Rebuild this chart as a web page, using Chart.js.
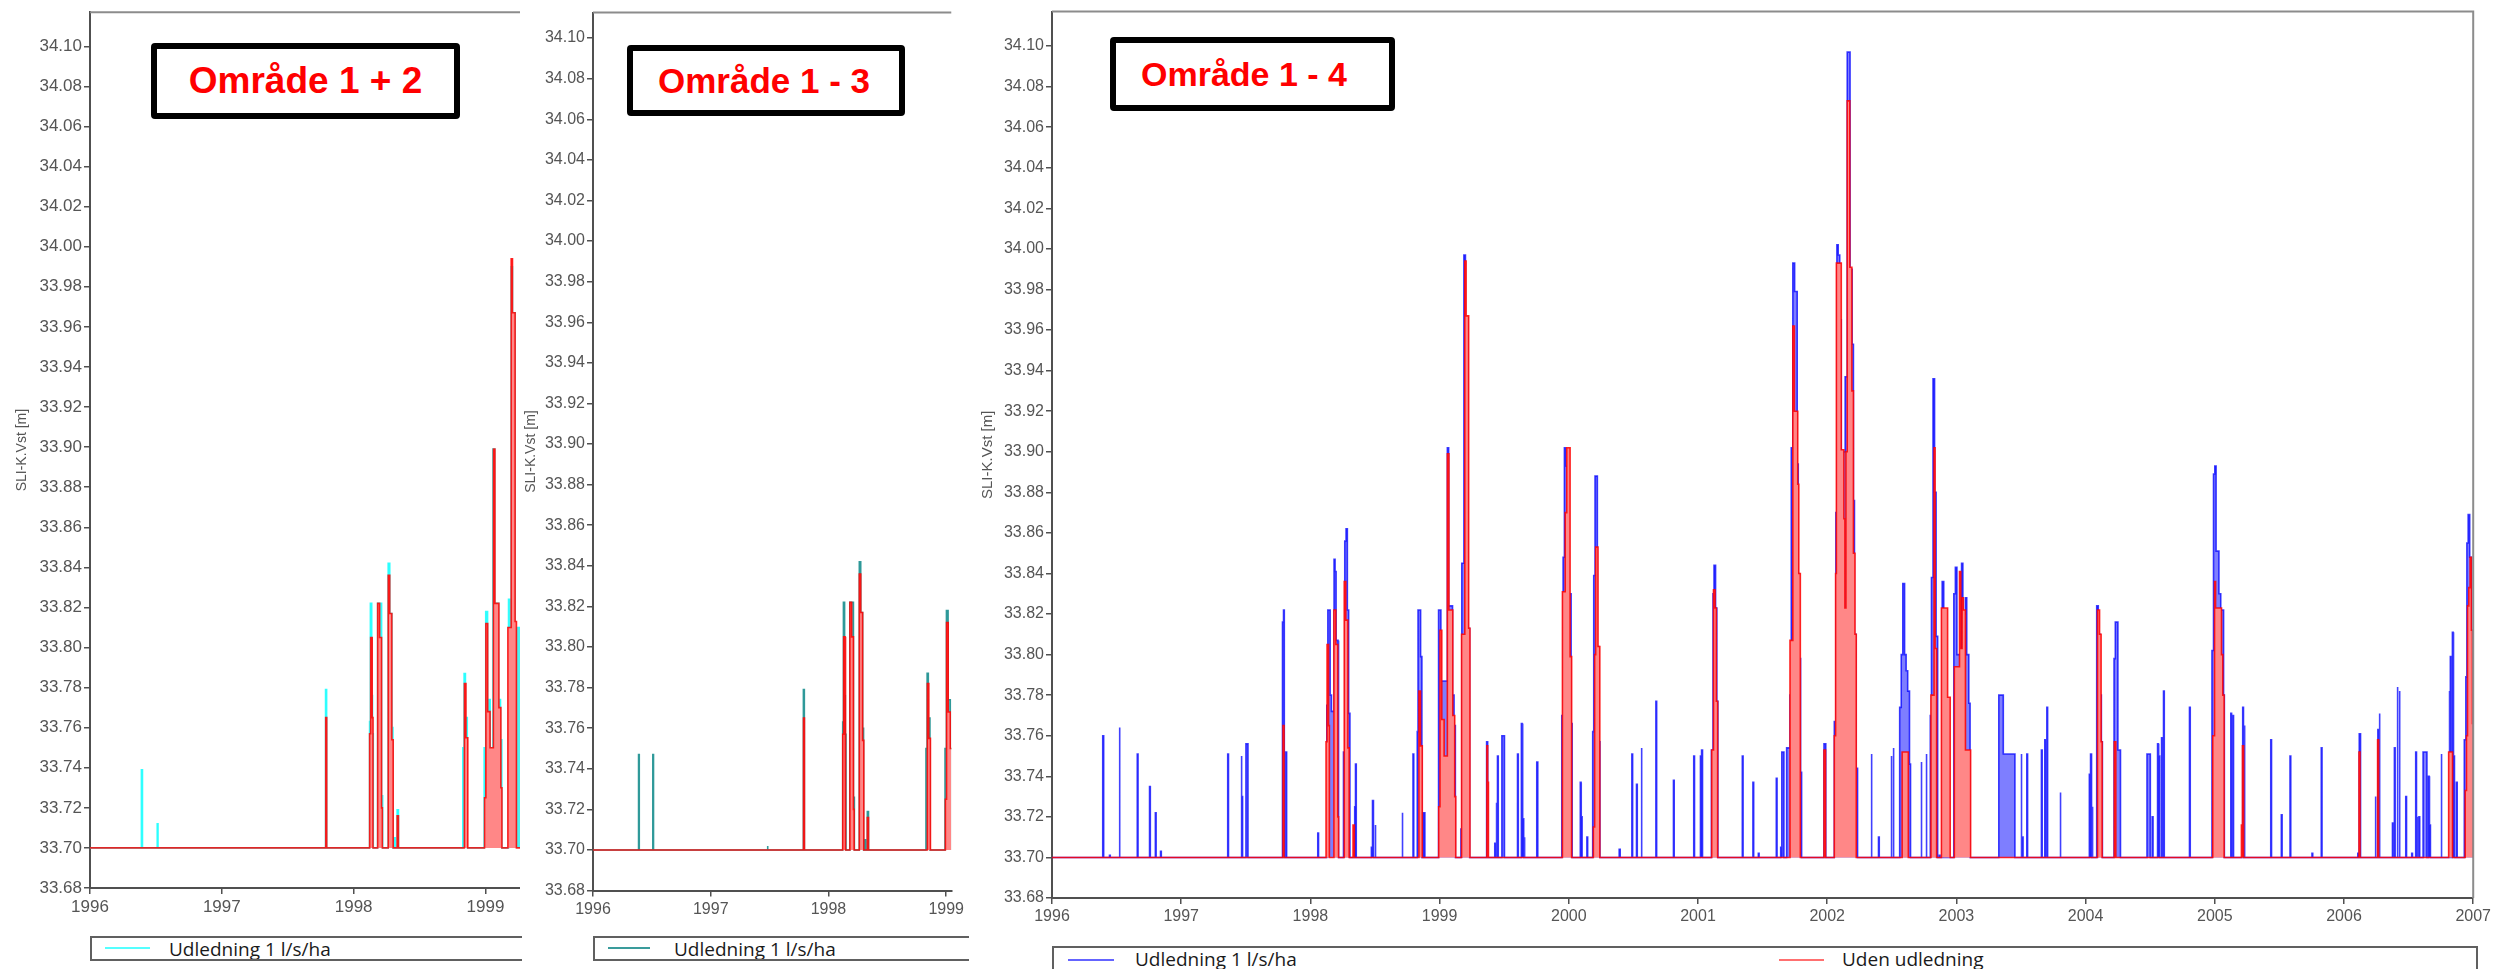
<!DOCTYPE html>
<html lang="da">
<head>
<meta charset="utf-8">
<title>SLI-K.Vst</title>
<script src="https://cdn.jsdelivr.net/npm/chart.js@4.4.1/dist/chart.umd.min.js"></script>
<style>
  html, body { margin: 0; padding: 0; background: #fff; }
  body { position: relative; width: 2494px; height: 969px; overflow: hidden; }
  canvas { position: absolute; top: 0; }
  .title-box {
    position: absolute; box-sizing: border-box; border: 6px solid #000; border-radius: 4px;
    background: #fff; display: flex; align-items: center; color: #ff0000;
    font-family: "Liberation Sans", Arial, sans-serif; font-weight: bold; white-space: nowrap;
  }
  .legend { position: absolute; box-sizing: border-box; border: 2px solid #606060; background: #fff; overflow: hidden; }
  .legend .swatch { position: absolute; height: 2px; }
  .legend .label {
    position: absolute; top: 0; font-family: "Open Sans", sans-serif; font-size: 19px;
    line-height: 23px; color: #1a1a1a; white-space: nowrap;
  }
</style>
</head>
<body>

<canvas id="panel12" width="520" height="930" style="left:0px"></canvas>
<canvas id="panel13" width="447" height="932" style="left:520px"></canvas>
<canvas id="panel14" width="1527" height="940" style="left:967px"></canvas>

<div class="title-box" style="left:151px;top:43px;width:309px;height:76px;font-size:37px;justify-content:center;">Område 1 + 2</div>
<div class="title-box" style="left:627px;top:45px;width:278px;height:71px;font-size:35px;padding-left:25px;">Område 1 - 3</div>
<div class="title-box" style="left:1110px;top:37px;width:285px;height:74px;font-size:34px;padding-left:25px;">Område 1 - 4</div>

<div class="legend" style="left:90px;top:936px;width:432px;height:25px;border-right:none;">
  <div class="swatch" style="left:13px;top:9px;width:45px;background:#55ffff;"></div>
  <div class="label" style="left:77px;">Udledning 1 l/s/ha</div>
</div>
<div class="legend" style="left:593px;top:936px;width:376px;height:25px;border-right:none;">
  <div class="swatch" style="left:13px;top:9px;width:42px;background:#3a9c9c;"></div>
  <div class="label" style="left:79px;">Udledning 1 l/s/ha</div>
</div>
<div class="legend" style="left:1052px;top:946px;width:1426px;height:30px;">
  <div class="swatch" style="left:14px;top:11px;width:46px;background:#6464ff;"></div>
  <div class="label" style="left:81px;">Udledning 1 l/s/ha</div>
  <div class="swatch" style="left:725px;top:11px;width:45px;background:#ff7070;"></div>
  <div class="label" style="left:788px;">Uden udledning</div>
</div>

<script>
const BASE = 33.70;
const SPIKE = 0.006;

const yearTicks = [1996, 1997, 1998, 1999, 2000, 2001, 2002, 2003, 2004, 2005, 2006, 2007];
const levelTicks = [33.68, 33.70, 33.72, 33.74, 33.76, 33.78, 33.80, 33.82, 33.84, 33.86, 33.88,
                    33.90, 33.92, 33.94, 33.96, 33.98, 34.00, 34.02, 34.04, 34.06, 34.08, 34.10];
const yTitle = 'SLI-K.Vst [m]';

// events: [start year, level, duration in years (default SPIKE)]
const udenUdledning = [
  [1997.788, 33.765, 0.008],
  [1998.121, 33.757, 0.008], [1998.129, 33.805, 0.012], [1998.141, 33.765, 0.006],
  [1998.182, 33.822, 0.015], [1998.197, 33.805, 0.015], [1998.212, 33.72, 0.006],
  [1998.262, 33.836, 0.012], [1998.274, 33.817, 0.016], [1998.29, 33.754, 0.01],
  [1998.33, 33.716, 0.01],
  [1998.84, 33.782, 0.012], [1998.852, 33.755, 0.014],
  [1998.993, 33.725, 0.01], [1999.003, 33.812, 0.014], [1999.017, 33.768, 0.018],
  [1999.035, 33.75, 0.025], [1999.06, 33.899, 0.012], [1999.072, 33.822, 0.03],
  [1999.102, 33.77, 0.015], [1999.117, 33.73, 0.008],
  [1999.17, 33.81, 0.025], [1999.195, 33.994, 0.01], [1999.205, 33.967, 0.02], [1999.225, 33.813, 0.01],
  [1999.366, 33.755, 0.006], [1999.372, 33.737, 0.006],
  [1999.948, 33.753, 0.004], [1999.952, 33.831, 0.02], [1999.972, 33.87, 0.012],
  [1999.984, 33.902, 0.026], [2000.01, 33.799, 0.012],
  [2000.19, 33.715, 0.01], [2000.20, 33.80, 0.008], [2000.208, 33.853, 0.018], [2000.226, 33.804, 0.014],
  [2001.106, 33.753, 0.014], [2001.12, 33.832, 0.012], [2001.132, 33.823, 0.01], [2001.142, 33.777, 0.01],
  [2001.712, 33.807, 0.022], [2001.734, 33.962, 0.012], [2001.746, 33.92, 0.026],
  [2001.772, 33.884, 0.008], [2001.78, 33.84, 0.012],
  [2001.975, 33.753, 0.012],
  [2002.055, 33.76, 0.01], [2002.065, 33.84, 0.006], [2002.071, 33.993, 0.038], [2002.109, 33.901, 0.02],
  [2002.129, 33.867, 0.008], [2002.137, 33.823, 0.008], [2002.145, 33.90, 0.01], [2002.155, 34.073, 0.02],
  [2002.175, 33.991, 0.016], [2002.191, 33.93, 0.012], [2002.203, 33.85, 0.012], [2002.215, 33.81, 0.01],
  [2002.58, 33.752, 0.048],
  [2002.803, 33.78, 0.024], [2002.827, 33.902, 0.008], [2002.835, 33.803, 0.012],
  [2002.884, 33.823, 0.048], [2002.932, 33.779, 0.02],
  [2002.984, 33.794, 0.04], [2003.024, 33.841, 0.01], [2003.034, 33.803, 0.01], [2003.044, 33.828, 0.01],
  [2003.054, 33.822, 0.016], [2003.07, 33.753, 0.04],
  [2004.092, 33.822, 0.016], [2004.108, 33.81, 0.012], [2004.12, 33.757, 0.008],
  [2004.222, 33.757, 0.012],
  [2004.984, 33.76, 0.014], [2004.998, 33.836, 0.008], [2005.006, 33.823, 0.046],
  [2005.052, 33.80, 0.01], [2005.062, 33.78, 0.01],
  [2005.206, 33.716, 0.006], [2005.215, 33.755, 0.008],
  [2006.116, 33.752, 0.008],
  [2006.26, 33.758, 0.008],
  [2006.81, 33.752, 0.03],
  [2006.938, 33.733, 0.01], [2006.948, 33.76, 0.008], [2006.956, 33.824, 0.01], [2006.966, 33.833, 0.01],
  [2006.976, 33.848, 0.01], [2006.986, 33.812, 0.008], [2006.994, 33.766, 0.006]
];

const udledning12Early = [[1996.39, 33.739, 0.008], [1996.51, 33.712, 0.006]];
const udledning13Early = [[1996.387, 33.747, 0.006], [1996.508, 33.747, 0.006], [1997.48, 33.702, 0.006]];
const udledningFrom1997 = [
  [1997.787, 33.779, 0.008],
  [1998.121, 33.763, 0.006], [1998.127, 33.822, 0.01], [1998.137, 33.776, 0.006], [1998.143, 33.757, 0.006],
  [1998.182, 33.822, 0.03], [1998.212, 33.726, 0.008],
  [1998.262, 33.842, 0.012], [1998.274, 33.817, 0.016], [1998.29, 33.76, 0.008],
  [1998.305, 33.705, 0.01], [1998.33, 33.719, 0.01],
  [1998.828, 33.75, 0.01], [1998.838, 33.787, 0.01], [1998.848, 33.765, 0.014],
  [1998.99, 33.75, 0.012], [1999.002, 33.818, 0.014], [1999.016, 33.774, 0.02], [1999.036, 33.75, 0.02],
  [1999.056, 33.899, 0.014], [1999.07, 33.822, 0.03], [1999.10, 33.774, 0.014], [1999.114, 33.754, 0.01],
  [1999.175, 33.824, 0.02], [1999.195, 33.99, 0.01], [1999.205, 33.967, 0.02], [1999.225, 33.81, 0.05]
];

const udledning14 = [
  [1996.39, 33.706, 0.004], [1996.394, 33.76], [1996.445, 33.701], [1996.52, 33.764],
  [1996.66, 33.751], [1996.755, 33.735], [1996.80, 33.722], [1996.84, 33.703],
  [1997.36, 33.751], [1997.465, 33.75, 0.004], [1997.469, 33.73], [1997.501, 33.756, 0.016],
  [1997.784, 33.816, 0.008], [1997.792, 33.822], [1997.81, 33.752],
  [1998.057, 33.712],
  [1998.127, 33.775, 0.008], [1998.135, 33.822, 0.018], [1998.153, 33.78, 0.01], [1998.163, 33.772, 0.02],
  [1998.183, 33.847, 0.008], [1998.191, 33.841, 0.008], [1998.199, 33.807, 0.015], [1998.214, 33.749],
  [1998.256, 33.752, 0.01], [1998.266, 33.856, 0.01], [1998.276, 33.862, 0.01], [1998.286, 33.822, 0.01],
  [1998.296, 33.771, 0.01],
  [1998.343, 33.725], [1998.349, 33.746],
  [1998.472, 33.705], [1998.482, 33.728], [1998.50, 33.716],
  [1998.709, 33.722], [1998.794, 33.751],
  [1998.827, 33.762], [1998.833, 33.822, 0.02], [1998.853, 33.799, 0.01],
  [1998.874, 33.722, 0.012],
  [1998.988, 33.759], [1998.994, 33.822, 0.016], [1999.01, 33.787, 0.05], [1999.06, 33.902, 0.01],
  [1999.07, 33.824, 0.03], [1999.10, 33.78, 0.012], [1999.112, 33.765, 0.01],
  [1999.165, 33.714],
  [1999.172, 33.845, 0.016], [1999.188, 33.997, 0.012], [1999.20, 33.966, 0.02], [1999.22, 33.813, 0.012],
  [1999.364, 33.757, 0.008],
  [1999.427, 33.707], [1999.437, 33.727], [1999.448, 33.75],
  [1999.482, 33.76, 0.02],
  [1999.603, 33.751], [1999.633, 33.766], [1999.645, 33.719], [1999.654, 33.71],
  [1999.752, 33.747, 0.008],
  [1999.946, 33.77, 0.01], [1999.956, 33.848, 0.01], [1999.966, 33.902, 0.01], [1999.976, 33.893, 0.022],
  [1999.998, 33.83, 0.02], [2000.018, 33.766, 0.008],
  [2000.089, 33.737], [2000.097, 33.72], [2000.14, 33.71],
  [2000.185, 33.762, 0.008], [2000.193, 33.839, 0.01], [2000.203, 33.888, 0.018], [2000.221, 33.804, 0.012],
  [2000.233, 33.757, 0.008],
  [2000.39, 33.704, 0.008],
  [2000.488, 33.751], [2000.524, 33.736], [2000.56, 33.754],
  [2000.674, 33.777], [2000.81, 33.738],
  [2000.967, 33.75], [2001.019, 33.75], [2001.029, 33.753],
  [2001.104, 33.753, 0.012], [2001.116, 33.83, 0.008], [2001.124, 33.844, 0.012], [2001.136, 33.823, 0.01],
  [2001.146, 33.777, 0.008],
  [2001.343, 33.75], [2001.425, 33.737], [2001.467, 33.702],
  [2001.606, 33.739],
  [2001.64, 33.705], [2001.65, 33.752, 0.015],
  [2001.686, 33.754, 0.026],
  [2001.712, 33.78, 0.01], [2001.722, 33.902, 0.012], [2001.734, 33.993, 0.014], [2001.748, 33.979, 0.02],
  [2001.768, 33.894, 0.008], [2001.776, 33.84], [2001.782, 33.798, 0.012], [2001.794, 33.742, 0.008],
  [2001.975, 33.756, 0.014],
  [2002.055, 33.767, 0.012], [2002.067, 33.87, 0.008], [2002.075, 34.002, 0.01], [2002.085, 33.997, 0.012],
  [2002.097, 33.965, 0.012], [2002.109, 33.90, 0.03], [2002.139, 33.937, 0.016], [2002.155, 34.097, 0.022],
  [2002.177, 33.99, 0.016], [2002.193, 33.953, 0.01], [2002.203, 33.876, 0.008], [2002.211, 33.81, 0.012],
  [2002.223, 33.744, 0.012],
  [2002.34, 33.751], [2002.397, 33.71],
  [2002.494, 33.75], [2002.51, 33.754],
  [2002.561, 33.774, 0.012], [2002.573, 33.80, 0.012], [2002.585, 33.835, 0.014], [2002.599, 33.80, 0.012],
  [2002.611, 33.792, 0.012], [2002.623, 33.782, 0.014], [2002.637, 33.746, 0.008],
  [2002.726, 33.747], [2002.765, 33.751],
  [2002.798, 33.77, 0.009], [2002.807, 33.838, 0.012], [2002.819, 33.936, 0.012], [2002.831, 33.88, 0.012],
  [2002.843, 33.809, 0.012],
  [2002.868, 33.701],
  [2002.89, 33.836, 0.012],
  [2002.98, 33.83, 0.012], [2002.992, 33.843, 0.012], [2003.004, 33.80, 0.036], [2003.04, 33.845, 0.01],
  [2003.05, 33.82, 0.02], [2003.07, 33.828, 0.01], [2003.08, 33.80, 0.016], [2003.096, 33.776, 0.01],
  [2003.328, 33.78, 0.035], [2003.363, 33.751, 0.09],
  [2003.50, 33.751], [2003.51, 33.71], [2003.545, 33.751],
  [2003.658, 33.753], [2003.684, 33.758], [2003.70, 33.774],
  [2003.802, 33.732],
  [2004.029, 33.741], [2004.04, 33.751], [2004.05, 33.725],
  [2004.086, 33.824, 0.012], [2004.098, 33.81, 0.014], [2004.112, 33.78, 0.01], [2004.122, 33.757, 0.008],
  [2004.22, 33.798, 0.01], [2004.23, 33.816, 0.02], [2004.25, 33.753, 0.02],
  [2004.475, 33.751, 0.026], [2004.516, 33.72],
  [2004.557, 33.756], [2004.567, 33.75], [2004.588, 33.759], [2004.603, 33.782],
  [2004.804, 33.774],
  [2004.978, 33.802, 0.012], [2004.99, 33.889, 0.01], [2005.0, 33.893, 0.01], [2005.01, 33.851, 0.022],
  [2005.032, 33.83, 0.014], [2005.046, 33.822, 0.022], [2005.068, 33.78],
  [2005.124, 33.771], [2005.139, 33.77],
  [2005.216, 33.774], [2005.227, 33.765],
  [2005.433, 33.758], [2005.515, 33.721], [2005.582, 33.75], [2005.752, 33.702], [2005.824, 33.754],
  [2006.107, 33.702], [2006.118, 33.761, 0.01],
  [2006.241, 33.73], [2006.262, 33.763], [2006.272, 33.771],
  [2006.375, 33.717], [2006.39, 33.754], [2006.411, 33.784], [2006.427, 33.782],
  [2006.478, 33.73],
  [2006.524, 33.702], [2006.555, 33.752], [2006.566, 33.72], [2006.58, 33.72], [2006.612, 33.752, 0.03],
  [2006.653, 33.74], [2006.663, 33.716],
  [2006.751, 33.751],
  [2006.813, 33.782], [2006.823, 33.799], [2006.839, 33.811], [2006.849, 33.75], [2006.87, 33.737],
  [2006.931, 33.758, 0.012], [2006.943, 33.789, 0.008], [2006.951, 33.855, 0.01], [2006.961, 33.869, 0.012],
  [2006.973, 33.848, 0.014], [2006.987, 33.812, 0.013]
];

// turn the event lists into a step line that sits on BASE between events
function buildSteps(events) {
  var pts = [{x: 1996, y: BASE}];
  var level = BASE;
  events.forEach(function(ev, i) {
    var t = ev[0], v = ev[1], end = ev[0] + (ev[2] || SPIKE);
    pts.push({x: t, y: level}, {x: t, y: v});
    level = v;
    var next = events[i + 1];
    if (!next || next[0] > end + 1e-6) {
      pts.push({x: end, y: v}, {x: end, y: BASE});
      level = BASE;
    }
  });
  pts.push({x: 2007, y: BASE});
  return pts;
}

function series(label, events, line, area) {
  return {
    label: label,
    data: buildSteps(events),
    borderColor: line,
    backgroundColor: area,
    borderWidth: 1.6,
    pointRadius: 0,
    tension: 0,
    fill: {value: BASE}
  };
}

var frame = {
  id: 'frame',
  afterDraw: function(chart, args, opts) {
    var a = chart.chartArea, ctx = chart.ctx;
    ctx.save();
    ctx.strokeStyle = '#8c8c8c';
    ctx.lineWidth = 2;
    ctx.beginPath();
    ctx.moveTo(a.left, a.top);
    ctx.lineTo(a.right, a.top);
    if (opts.right) ctx.lineTo(a.right, a.bottom);
    ctx.stroke();
    ctx.restore();
  }
};

var tickFont = '"Liberation Sans", Arial, sans-serif';

function drawPanel(id, p) {
  return new Chart(document.getElementById(id), {
    type: 'line',
    data: {datasets: p.datasets},
    options: {
      responsive: false,
      animation: false,
      events: [],
      parsing: false,
      normalized: true,
      layout: {autoPadding: false, padding: {left: 0, top: p.top, right: p.right, bottom: 0}},
      plugins: {
        legend: {display: false},
        tooltip: {enabled: false},
        frame: {right: p.frameRight}
      },
      scales: {
        x: {
          type: 'linear',
          bounds: 'data',
          min: 1996,
          max: p.xMax,
          afterFit: function(s) { s.height = p.xH; },
          afterBuildTicks: function(s) {
            s.ticks = yearTicks.filter(function(y) { return y <= p.xMax + 1e-9; })
                               .map(function(y) { return {value: y}; });
          },
          border: {color: '#505050', width: 2},
          grid: {drawOnChartArea: false, color: '#505050', lineWidth: 1.5, tickLength: 6},
          ticks: {
            autoSkip: false, maxRotation: 0, padding: 3, color: '#555',
            font: {family: tickFont, size: p.tickSize},
            callback: function(v) { return String(v); }
          }
        },
        y: {
          type: 'linear',
          bounds: 'data',
          min: 33.68,
          max: p.yMax,
          afterFit: function(s) { s.width = p.yW; },
          afterBuildTicks: function(s) {
            s.ticks = levelTicks.map(function(v) { return {value: v}; });
          },
          border: {color: '#505050', width: 2},
          grid: {drawOnChartArea: false, color: '#505050', lineWidth: 1.5, tickLength: 6},
          ticks: {
            padding: 2, color: '#555',
            font: {family: tickFont, size: p.tickSize},
            callback: function(v) { return v.toFixed(2); }
          },
          title: {
            display: true, text: yTitle, color: '#555',
            font: {family: tickFont, size: p.titleSize},
            padding: {top: p.titlePad, bottom: 0}
          }
        }
      }
    },
    plugins: [frame]
  });
}

// red is drawn on top with an opaque pink body, like the overplotted original
var redLine = 'rgba(255,0,0,0.85)', redArea = 'rgb(255,135,135)';

drawPanel('panel12', {
  datasets: [
    series('Uden udledning', udenUdledning, redLine, redArea),
    series('Udledning 1 l/s/ha', udledning12Early.concat(udledningFrom1997), 'rgba(40,255,255,0.95)', 'rgba(0,235,235,0.7)')
  ],
  top: 11, right: 0, xH: 42, yW: 90, xMax: 1999.262, yMax: 34.117,
  tickSize: 17, titleSize: 14, titlePad: 14, frameRight: false
});

drawPanel('panel13', {
  datasets: [
    series('Uden udledning', udenUdledning, redLine, redArea),
    series('Udledning 1 l/s/ha', udledning13Early.concat(udledningFrom1997), 'rgba(40,150,150,0.95)', 'rgba(40,150,150,0.7)')
  ],
  top: 12.5, right: 0, xH: 41.4, yW: 73, xMax: 1999.043, yMax: 34.1126,
  tickSize: 16, titleSize: 14, titlePad: 3, frameRight: false
});

drawPanel('panel14', {
  datasets: [
    series('Uden udledning', udenUdledning, redLine, redArea),
    series('Udledning 1 l/s/ha', udledning14, 'rgba(0,0,255,0.75)', 'rgba(20,20,255,0.55)')
  ],
  top: 6, right: 17, xH: 42, yW: 85, xMax: 2007, yMax: 34.117,
  tickSize: 16, titleSize: 15, titlePad: 12, frameRight: true
});
</script>
</body>
</html>
